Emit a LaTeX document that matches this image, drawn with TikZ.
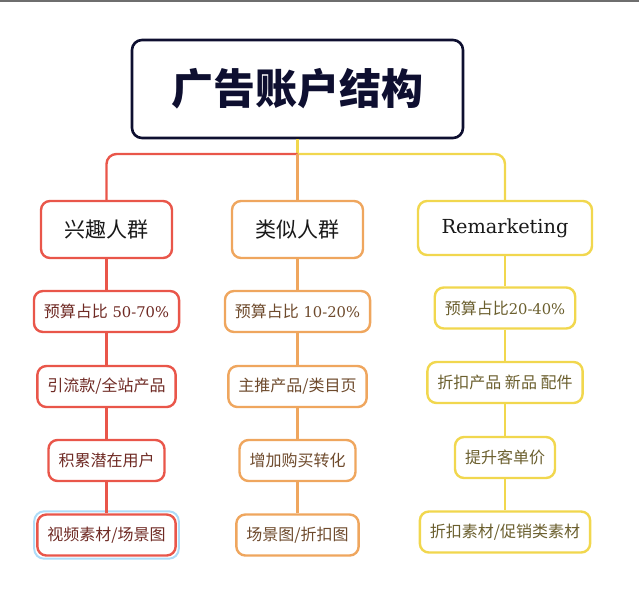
\documentclass[tikz,border=0pt]{standalone}
\usepackage{fontspec}
\setmainfont[Scale=0.92]{DejaVu Serif}
\newfontfamily\cjk{Noto Sans CJK SC}
\usetikzlibrary{fit}
\definecolor{redc}{HTML}{E9564A}
\definecolor{orangec}{HTML}{EFA65E}
\definecolor{yellowc}{HTML}{F1D74E}
\definecolor{redtxt}{HTML}{6F2A24}
\definecolor{orangetxt}{HTML}{6E4A2C}
\definecolor{yellowtxt}{HTML}{6B5F2E}
\definecolor{navy}{HTML}{0E0F30}
\definecolor{selblue}{HTML}{AEDCF8}
\definecolor{framegray}{HTML}{6E6E6E}
\newcommand\zh[1]{{\cjk #1}}
\begin{document}
\begin{tikzpicture}[x=1pt,y=-1pt,
 box/.style={draw,rounded corners=9pt,line width=2.4pt,fill=white,minimum height=41pt,inner xsep=10pt,font=\fontsize{16}{18}\selectfont},
 head/.style={box,minimum height=57pt,inner xsep=23.5pt,font=\fontsize{21}{24}\selectfont,text=black!90},
 redbox/.style={box,draw=redc,text=redtxt},
 orangebox/.style={box,draw=orangec,text=orangetxt},
 yellowbox/.style={box,draw=yellowc,text=yellowtxt},
 titlebox/.style={draw=navy,rounded corners=10pt,line width=2.6pt,minimum width=331pt,minimum height=98pt,text=navy,font=\fontsize{42}{46}\selectfont\cjk\bfseries},
 link/.style={line width=2.4pt,rounded corners=10pt}]
\useasboundingbox (0,0) rectangle (639,594);
\draw[framegray,line width=1.6pt] (0,0.8)--(639,0.8);
\node[titlebox] (top) at (297.5,89) {广告账户结构};
\node[head,draw=redc] (interest) at (106.5,229.5) {\zh{兴趣人群}};
\node[head,draw=orangec] (similar) at (297.5,229.5) {\zh{类似人群}};
\node[head,draw=yellowc,minimum height=54pt] (remarketing) at (505,228) {Remarketing};
\node[redbox] (i1) at (106.5,311.5) {\zh{预算占比} 50-70\%};
\node[redbox] (i2) at (106.5,386.5) {\zh{引流款/全站产品}};
\node[redbox] (i3) at (106.5,460.5) {\zh{积累潜在用户}};
\node[redbox] (i4) at (106.5,535) {\zh{视频素材/场景图}};
\node[orangebox] (s1) at (297.5,311.5) {\zh{预算占比} 10-20\%};
\node[orangebox] (s2) at (297.5,386.5) {\zh{主推产品/类目页}};
\node[orangebox] (s3) at (297.5,460.5) {\zh{增加购买转化}};
\node[orangebox] (s4) at (297.5,535) {\zh{场景图/折扣图}};
\node[yellowbox] (m1) at (505,308) {\zh{预算占比}20-40\%};
\node[yellowbox] (m2) at (505,382.5) {\zh{折扣产品 新品 配件}};
\node[yellowbox] (m3) at (505,457.5) {\zh{提升客单价}};
\node[yellowbox] (m4) at (505,532) {\zh{折扣素材/促销类素材}};
\node[fit=(i4),draw=selblue,line width=2pt,rounded corners=10pt,inner sep=2pt] (sel) {};
\coordinate (fork) at (297.5,154);
\draw[link,yellowc] (top)--(fork);
\draw[link,yellowc] (fork)-|(remarketing);
\draw[link,redc] (fork)-|(interest);
\draw[link,orangec] (fork)--(similar);
\foreach \a/\b in {interest/i1,i1/i2,i2/i3,i3/i4}
 \draw[link,redc] (\a)--(\b);
\foreach \a/\b in {similar/s1,s1/s2,s2/s3,s3/s4}
 \draw[link,orangec] (\a)--(\b);
\foreach \a/\b in {remarketing/m1,m1/m2,m2/m3,m3/m4}
 \draw[link,yellowc] (\a)--(\b);
\end{tikzpicture}
\end{document}
